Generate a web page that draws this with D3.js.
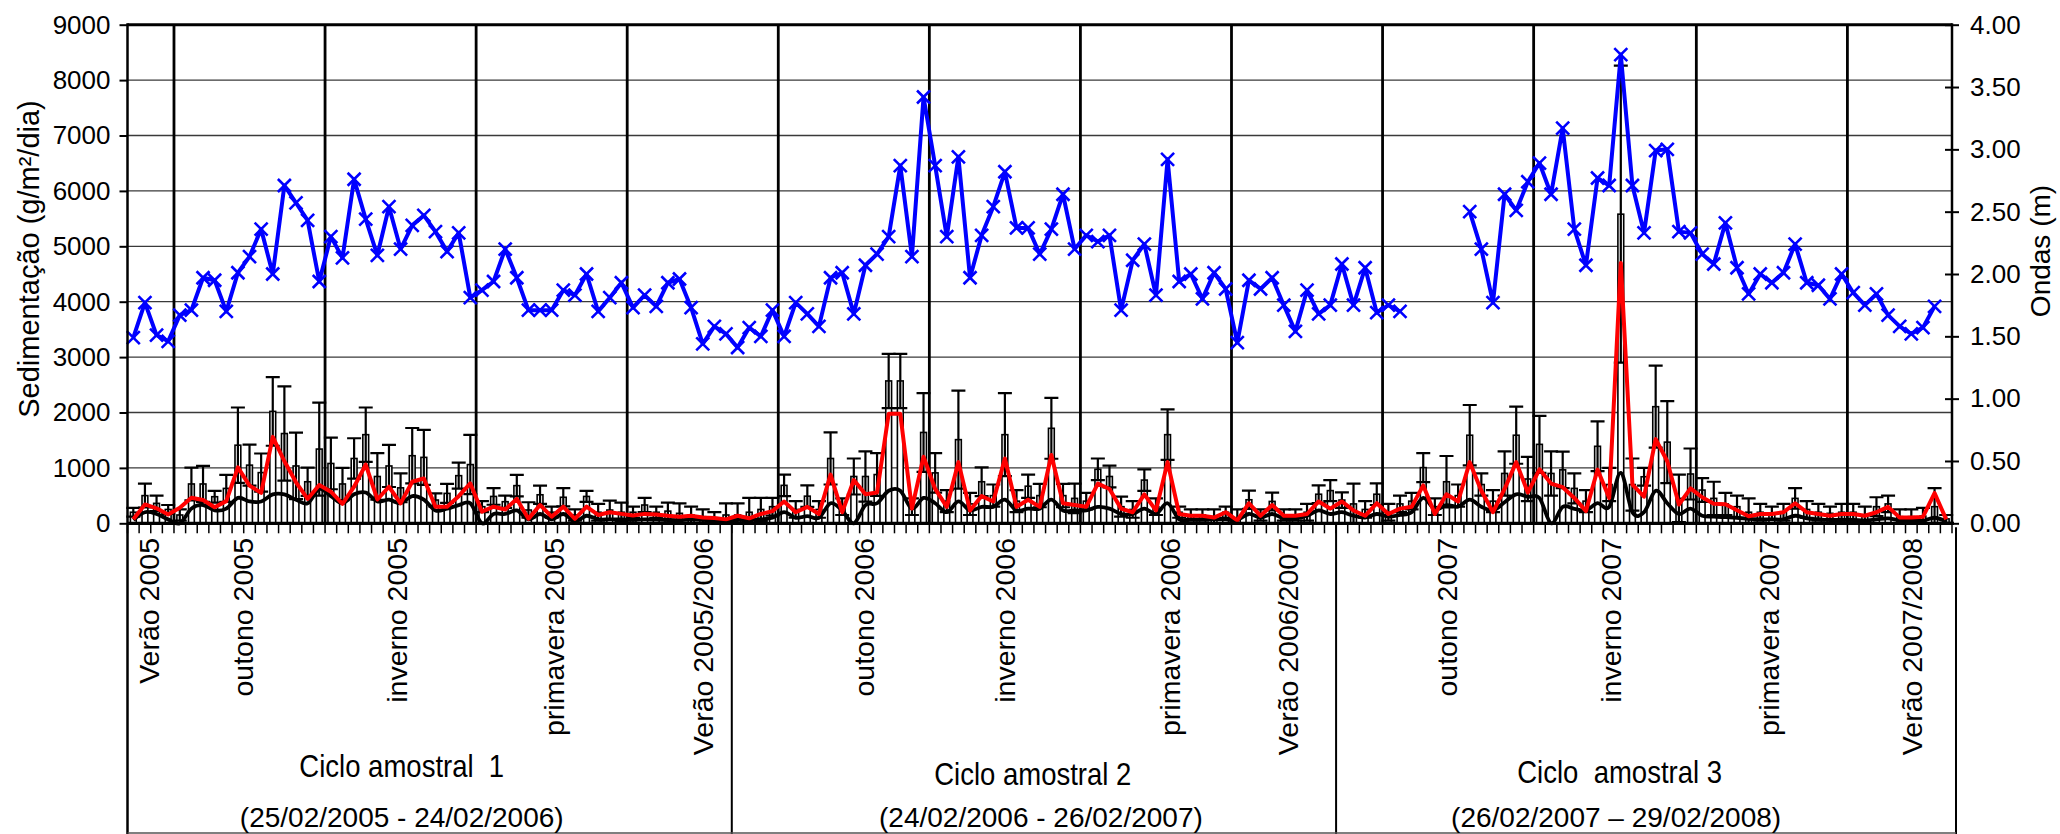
<!DOCTYPE html>
<html>
<head>
<meta charset="utf-8">
<script src="https://cdn.jsdelivr.net/npm/d3@7"></script>
<style>
  html, body { margin: 0; padding: 0; background: #fff; }
  svg { display: block; font-family: "Liberation Sans", Arial, Helvetica, sans-serif; }
  text { white-space: pre; }
</style>
</head>
<body>
<svg id="chart" width="2060" height="834"></svg>
<script>
// ---- data -------------------------------------------------------------
// weekly samples, three one-year sampling cycles
const cycleWeeks   = [52, 52, 53];
const cycleTitles  = ["Ciclo amostral  1", "Ciclo amostral 2", "Ciclo  amostral 3"];
const cyclePeriods = ["(25/02/2005 - 24/02/2006)", "(24/02/2006 - 26/02/2007)", "(26/02/2007 – 29/02/2008)"];

const seasonLabels = ["Verão 2005", "outono 2005", "inverno 2005", "primavera 2005", "Verão 2005/2006",
                      "outono 2006", "inverno 2006", "primavera 2006", "Verão 2006/2007",
                      "outono 2007", "inverno 2007", "primavera 2007", "Verão 2007/2008"];
// week index at which each season boundary is drawn
const seasonBreaks = [4, 17, 30, 43, 56, 69, 82, 95, 108, 121, 135, 148];

const sedTicks  = [0, 1000, 2000, 3000, 4000, 5000, 6000, 7000, 8000, 9000];
const waveTicks = [0, 0.5, 1, 1.5, 2, 2.5, 3, 3.5, 4];

// significant wave height (m), right axis
const waveHeight = [
  1.49, 1.77, 1.51, 1.46, 1.67, 1.71, 1.97, 1.95, 1.70, 2.01,
  2.14, 2.36, 2.00, 2.71, 2.57, 2.43, 1.94, 2.30, 2.13, 2.76,
  2.44, 2.15, 2.54, 2.20, 2.39, 2.47, 2.34, 2.18, 2.33, 1.81,
  1.87, 1.94, 2.20, 1.97, 1.71, 1.71, 1.71, 1.87, 1.83, 2.00,
  1.70, 1.81, 1.93, 1.73, 1.83, 1.74, 1.93, 1.96, 1.73, 1.44,
  1.58, 1.52, 1.41, 1.57, 1.50, 1.71, 1.50, 1.77, 1.68, 1.58,
  1.97, 2.01, 1.68, 2.07, 2.16, 2.30, 2.87, 2.14, 3.42, 2.87,
  2.30, 2.94, 1.97, 2.31, 2.54, 2.82, 2.37, 2.37, 2.16, 2.36,
  2.64, 2.20, 2.31, 2.26, 2.31, 1.71, 2.11, 2.24, 1.83, 2.92,
  1.94, 2.00, 1.80, 2.01, 1.88, 1.45, 1.95, 1.88, 1.97, 1.75,
  1.54, 1.87, 1.68, 1.75, 2.08, 1.75, 2.05, 1.69, 1.75, 1.70,
  null, null, null, null, null, 2.50, 2.20, 1.77, 2.64, 2.51,
  2.74, 2.89, 2.64, 3.17, 2.36, 2.07, 2.77, 2.71, 3.76, 2.71,
  2.33, 2.99, 3.00, 2.34, 2.33, 2.16, 2.08, 2.41, 2.05, 1.84,
  2.00, 1.93, 2.01, 2.24, 1.93, 1.91, 1.80, 2.00, 1.85, 1.75,
  1.84, 1.67, 1.58, 1.52, 1.57, 1.74, null
];

// sedimentation (g/m²/dia): mean of the traps (bars) and standard deviation
const sedMean = [
  200, 500, 360, 250, 150, 710, 710, 480, 630, 1410,
  1050, 915, 2020, 1620, 1035, 750, 1340, 1080, 710, 1170,
  1600, 845, 1035, 640, 1220, 1190, 420, 540, 860, 1060,
  300, 485, 390, 680, 240, 515, 200, 470, 150, 485,
  200, 240, 200, 200, 330, 200, 220, 180, 150, 120,
  100, 150, 150, 200, 250, 300, 685, 250, 490, 250,
  1170, 300, 845, 845, 880, 2570, 2570, 300, 1640, 910,
  400, 1510, 350, 750, 500, 1600, 400, 670, 500, 1715,
  500, 450, 400, 975, 845, 300, 250, 780, 300, 1600,
  200, 150, 150, 120, 200, 100, 425, 150, 395, 150,
  150, 200, 525, 590, 420, 350, 250, 525, 200, 350,
  400, 1005, 300, 750, 500, 1590, 700, 400, 900, 1590,
  800, 1425, 900, 965, 630, 400, 1390, 700, 5580, 700,
  840, 2105, 1465, 450, 890, 600, 450, 350, 300, 200,
  200, 180, 200, 450, 250, 200, 180, 200, 200, 150,
  300, 350, 120, 120, 130, 300, 80
];
const sedSd = [
  80, 215, 140, 80, 100, 295, 325, 105, 245, 680,
  370, 345, 620, 850, 600, 255, 840, 465, 290, 365,
  490, 420, 380, 260, 500, 495, 120, 170, 235, 535,
  100, 150, 110, 195, 140, 165, 100, 165, 100, 100,
  150, 170, 175, 100, 130, 100, 155, 180, 150, 130,
  100, 210, 210, 260, 210, 160, 195, 150, 195, 150,
  470, 150, 325, 455, 385, 490, 490, 150, 710, 355,
  200, 885, 200, 260, 200, 750, 200, 210, 210, 550,
  210, 265, 150, 195, 195, 180, 150, 195, 150, 455,
  100, 100, 100, 130, 100, 150, 165, 100, 160, 100,
  100, 150, 160, 190, 140, 365, 150, 195, 150, 150,
  150, 260, 150, 465, 200, 545, 200, 200, 400, 515,
  400, 515, 400, 330, 270, 200, 450, 300, 2680, 470,
  160, 740, 740, 430, 460, 215, 300, 200, 200, 250,
  150, 120, 150, 185, 150, 150, 120, 150, 150, 150,
  170, 150, 130, 130, 150, 335, 70
];
// sedimentation, red series
const sedRed = [
  72, 340, 270, 160, 280, 460, 420, 290, 400, 1010,
  680, 550, 1560, 1120, 740, 440, 690, 570, 350, 660,
  1060, 430, 660, 360, 750, 810, 300, 300, 490, 720,
  210, 300, 250, 440, 80, 330, 120, 300, 80, 300,
  150, 200, 170, 140, 170, 160, 136, 120, 136, 103,
  95, 71, 136, 90, 168, 220, 394, 200, 297, 168,
  878, 200, 781, 523, 555, 1976, 1976, 265, 1201, 620,
  297, 1104, 232, 491, 394, 1169, 297, 426, 297, 1233,
  362, 329, 297, 717, 620, 265, 200, 523, 232, 1104,
  168, 136, 136, 103, 200, 52, 362, 136, 329, 136,
  136, 168, 394, 265, 394, 232, 136, 362, 168, 265,
  297, 684, 168, 523, 394, 1104, 588, 200, 620, 1104,
  555, 975, 717, 652, 458, 220, 970, 455, 4700, 700,
  480, 1520, 1120, 340, 630, 470, 355, 345, 236, 128,
  168, 168, 200, 362, 200, 168, 136, 168, 168, 136,
  200, 297, 103, 103, 116, 545, 71
];
// sedimentation, black (smoothed) series
const sedBlack = [
  60, 200, 168, 71, 0, 265, 330, 232, 265, 458,
  394, 394, 523, 523, 426, 362, 620, 491, 362, 523,
  555, 394, 426, 362, 491, 426, 232, 265, 329, 362,
  0, 168, 168, 232, 71, 168, 71, 168, 39, 136,
  71, 71, 71, 60, 71, 65, 60, 55, 65, 60,
  50, 50, 60, 55, 70, 100, 200, 100, 130, 100,
  362, 232, 0, 329, 362, 588, 588, 265, 458, 362,
  200, 394, 232, 297, 297, 426, 232, 265, 265, 426,
  232, 232, 232, 297, 265, 168, 168, 265, 168, 362,
  71, 71, 71, 71, 71, 60, 168, 103, 168, 90,
  90, 136, 232, 168, 200, 136, 103, 168, 120, 150,
  200, 458, 250, 329, 300, 426, 300, 232, 380, 523,
  480, 458, 0, 297, 260, 232, 362, 297, 910, 200,
  200, 588, 362, 168, 265, 136, 120, 110, 100, 80,
  71, 71, 71, 136, 90, 71, 60, 60, 60, 50,
  71, 90, 50, 45, 45, 100, 30
];

// ---- layout -----------------------------------------------------------
const totalWeeks = d3.sum(cycleWeeks);
const weeks = d3.range(1, totalWeeks + 1);
const plot = { left: 127.5, right: 1952, top: 24.7, bottom: 523.3 };
const boxBottom = 833;

// label anchors, in week units from the left edge
const seasonLabelAt = [2.74, 10.82, 24.08, 37.53, 50.36, 64.2, 76.35, 90.53, 100.7, 114.38, 128.51, 142.08, 154.4];
const cycleTitleAt  = [23.6, 77.9, 128.4];
const cycleTitleY   = [777, 785, 783];
const cyclePeriodAt = [23.6, 78.6, 128.1];

const FONT = '"Liberation Sans", Arial, Helvetica, sans-serif';

const svg = d3.select("#chart");
svg.append("rect").attr("width", 2060).attr("height", 834).attr("fill", "#fff");

const x = d3.scaleBand().domain(weeks).range([plot.left, plot.right]).paddingInner(0).paddingOuter(0);
const step = x.step();
const cx = i => x(weeks[i]) + step / 2;
const edge = k => (k < weeks.length ? x(weeks[k]) : plot.right);
const atWeeks = u => plot.left + u * step;

const yL = d3.scaleLinear().domain([0, 9000]).range([plot.bottom, plot.top]);
const yR = d3.scaleLinear().domain([0, 4]).range([plot.bottom, plot.top]);

// horizontal gridlines
svg.append("g").selectAll("line")
  .data(sedTicks.filter(t => t > 0 && t < 9000))
  .join("line")
  .attr("x1", plot.left).attr("x2", plot.right)
  .attr("y1", d => yL(d)).attr("y2", d => yL(d))
  .attr("stroke", "#3a3a3a").attr("stroke-width", 1.3);

// bars (mean sedimentation)
const barW = step * 0.5;
svg.append("g").selectAll("rect")
  .data(sedMean)
  .join("rect")
  .attr("x", (d, i) => cx(i) - barW / 2)
  .attr("y", d => yL(d))
  .attr("width", barW)
  .attr("height", d => yL(0) - yL(d))
  .attr("fill", "#fff")
  .attr("stroke", "#000")
  .attr("stroke-width", 1.6);

// error bars (± standard deviation)
const capHalf = 7;
svg.append("g").selectAll("path")
  .data(sedMean)
  .join("path")
  .attr("d", (d, i) => {
    const lo = yL(Math.max(0, d - sedSd[i])), hi = yL(d + sedSd[i]), c = cx(i);
    return `M${c},${lo}V${hi}M${c - capHalf},${hi}H${c + capHalf}M${c - capHalf},${lo}H${c + capHalf}`;
  })
  .attr("fill", "none")
  .attr("stroke", "#000")
  .attr("stroke-width", 2.2);

// season boundaries
svg.append("g").selectAll("line")
  .data(seasonBreaks)
  .join("line")
  .attr("x1", d => edge(d)).attr("x2", d => edge(d))
  .attr("y1", plot.top).attr("y2", plot.bottom)
  .attr("stroke", "#000").attr("stroke-width", 2.8);

// black sedimentation series (smoothed)
svg.append("path")
  .datum(sedBlack)
  .attr("d", d3.line().x((d, i) => cx(i)).y(d => yL(d)).curve(d3.curveCatmullRom.alpha(0)))
  .attr("fill", "none").attr("stroke", "#000").attr("stroke-width", 3.8)
  .attr("stroke-linejoin", "round");

// red sedimentation series
svg.append("path")
  .datum(sedRed)
  .attr("d", d3.line().x((d, i) => cx(i)).y(d => yL(d)))
  .attr("fill", "none").attr("stroke", "#ff0000").attr("stroke-width", 4)
  .attr("stroke-linejoin", "round");

// wave height line with X markers
svg.append("path")
  .datum(waveHeight)
  .attr("d", d3.line().defined(d => d != null).x((d, i) => cx(i)).y(d => yR(d)))
  .attr("fill", "none").attr("stroke", "#0000ff").attr("stroke-width", 4)
  .attr("stroke-linejoin", "round");

const m = 6.5;
svg.append("g").selectAll("path")
  .data(waveHeight.map((v, i) => ({ v, i })).filter(d => d.v != null))
  .join("path")
  .attr("transform", d => `translate(${cx(d.i)},${yR(d.v)})`)
  .attr("d", `M${-m},${-m}L${m},${m}M${-m},${m}L${m},${-m}`)
  .attr("fill", "none").attr("stroke", "#0000ff").attr("stroke-width", 2.6);

// frame: top border, axis lines
const frame = svg.append("g").attr("stroke", "#000").attr("fill", "none");
frame.append("line").attr("x1", plot.left).attr("x2", plot.right)
  .attr("y1", plot.top).attr("y2", plot.top).attr("stroke-width", 3);
frame.append("line").attr("x1", plot.left).attr("x2", plot.right + 2)
  .attr("y1", plot.bottom).attr("y2", plot.bottom).attr("stroke-width", 3.2);
frame.append("line").attr("x1", plot.left).attr("x2", plot.left)
  .attr("y1", plot.top - 1.5).attr("y2", boxBottom + 1).attr("stroke-width", 2.5);
frame.append("line").attr("x1", plot.right).attr("x2", plot.right)
  .attr("y1", plot.top - 1.5).attr("y2", plot.bottom).attr("stroke-width", 2.5);

// week ticks on the category axis
svg.append("g").selectAll("line")
  .data(d3.range(weeks.length + 1))
  .join("line")
  .attr("x1", k => edge(k)).attr("x2", k => edge(k))
  .attr("y1", plot.bottom).attr("y2", plot.bottom + 10)
  .attr("stroke", "#000").attr("stroke-width", 1.5);

// label box below the axis: cycle dividers, right and bottom borders
const cycleEdges = d3.cumsum(cycleWeeks);
svg.append("g").selectAll("line")
  .data(Array.from(cycleEdges).slice(0, -1))
  .join("line")
  .attr("x1", k => edge(k)).attr("x2", k => edge(k))
  .attr("y1", plot.bottom).attr("y2", boxBottom + 1)
  .attr("stroke", "#000").attr("stroke-width", 2);
svg.append("line").attr("x1", plot.right + 4).attr("x2", plot.right + 4)
  .attr("y1", plot.bottom + 4).attr("y2", boxBottom + 1)
  .attr("stroke", "#000").attr("stroke-width", 2);
svg.append("line").attr("x1", plot.left).attr("x2", plot.right + 4)
  .attr("y1", boxBottom).attr("y2", boxBottom)
  .attr("stroke", "#555").attr("stroke-width", 1.5);

// left axis (sedimentation)
const axL = svg.append("g")
  .attr("transform", `translate(${plot.left},0)`)
  .call(d3.axisLeft(yL).tickValues(sedTicks).tickFormat(d3.format("d")).tickSize(8).tickPadding(9));
axL.select(".domain").remove();
axL.selectAll(".tick line").attr("stroke", "#000").attr("stroke-width", 2);
axL.selectAll(".tick text").attr("font-family", FONT).attr("font-size", 26).attr("fill", "#000");

// right axis (waves)
const axR = svg.append("g")
  .attr("transform", `translate(${plot.right},0)`)
  .call(d3.axisRight(yR).tickValues(waveTicks).tickFormat(d3.format(".2f")).tickSize(7).tickPadding(11));
axR.select(".domain").remove();
axR.selectAll(".tick line").attr("x1", -7).attr("stroke", "#000").attr("stroke-width", 2);
axR.selectAll(".tick text").attr("font-family", FONT).attr("font-size", 26).attr("fill", "#000");

// axis titles
svg.append("text")
  .attr("transform", "translate(39,259) rotate(-90)")
  .attr("text-anchor", "middle")
  .attr("font-size", 29).attr("fill", "#000")
  .text("Sedimentação (g/m²/dia)");
svg.append("text")
  .attr("transform", "translate(2050,251) rotate(-90)")
  .attr("text-anchor", "middle")
  .attr("font-size", 28).attr("fill", "#000")
  .text("Ondas (m)");

// season labels (vertical)
svg.append("g").selectAll("text")
  .data(seasonLabels)
  .join("text")
  .attr("transform", (d, i) => `translate(${atWeeks(seasonLabelAt[i])},538) rotate(-90)`)
  .attr("text-anchor", "end")
  .attr("font-size", 28.5).attr("fill", "#000")
  .text(d => d);

// cycle titles and periods
svg.append("g").selectAll("text")
  .data(cycleTitles)
  .join("text")
  .attr("transform", (d, i) => `translate(${atWeeks(cycleTitleAt[i])},${cycleTitleY[i]}) scale(0.86,1)`)
  .attr("text-anchor", "middle")
  .attr("font-size", 32).attr("fill", "#000")
  .text(d => d);
svg.append("g").selectAll("text")
  .data(cyclePeriods)
  .join("text")
  .attr("x", (d, i) => atWeeks(cyclePeriodAt[i]))
  .attr("y", 827)
  .attr("text-anchor", "middle")
  .attr("font-size", 28).attr("fill", "#000")
  .text(d => d);
</script>
</body>
</html>
